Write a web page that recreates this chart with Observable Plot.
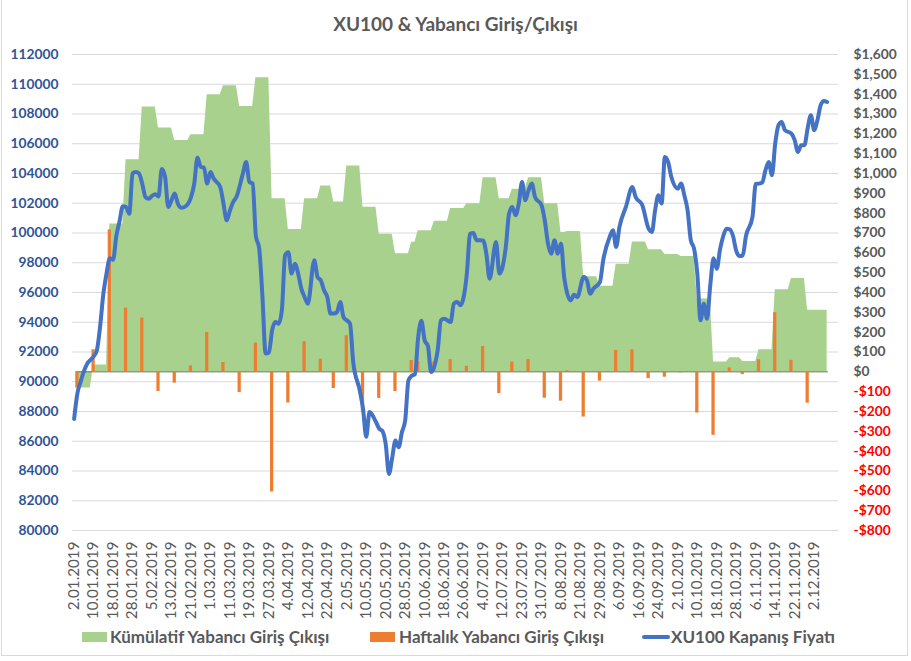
<!DOCTYPE html>
<html>
<head>
<meta charset="utf-8">
<script src="https://cdn.jsdelivr.net/npm/d3@7"></script>
<script src="https://cdn.jsdelivr.net/npm/@observablehq/plot@0.6"></script>
<style>
  html, body { margin: 0; padding: 0; background: #fff; }
  #wrap { position: relative; width: 911px; height: 661px; overflow: hidden; font-family: Lato, "Open Sans", sans-serif; }
  #frame { position: absolute; left: 1px; top: -2px; width: 907px; height: 658px; border: 1px solid #D9D9D9; box-sizing: border-box; }
  #title { position: absolute; left: 0; top: 12px; width: 911px; text-align: center; font-weight: bold; font-size: 19px; line-height: 24px; color: #595959; }
  #chart { position: absolute; left: 0; top: 40px; }
  .lg { position: absolute; top: 626px; height: 22px; line-height: 22px; font-size: 17px; font-weight: bold; color: #595959; white-space: nowrap; }
  .sw { position: absolute; }
</style>
</head>
<body>
<div id="wrap">
  <div id="frame"></div>
  <div id="title">XU100 &amp; Yabancı Giriş/Çıkışı</div>
  <div id="chart"></div>
  <div class="sw" style="left:82px;top:632px;width:25px;height:10px;background:#A9D18E"></div>
  <div class="lg" style="left:110px">Kümülatif Yabancı Giriş Çıkışı</div>
  <div class="sw" style="left:370px;top:632px;width:25px;height:10px;background:#ED7D31"></div>
  <div class="lg" style="left:399px">Haftalık Yabancı Giriş Çıkışı</div>
  <div class="sw" style="left:642px;top:635px;width:28px;height:4px;background:#4472C4;border-radius:2px"></div>
  <div class="lg" style="left:671px">XU100 Kapanış Fiyatı</div>
</div>
<script>
// ---- X axis: trading-day index, labelled every 6th trading day ----
const xTickDay = [0,6,12,18,24,30,36,42,48,54,60,66,72,78,84,90,96,102,108,114,120,126,132,138,144,150,156,162,168,174,180,186,192,198,204,210,216,222,228];
const xTickLabels = ["2.01.2019","10.01.2019","18.01.2019","28.01.2019","5.02.2019","13.02.2019","21.02.2019","1.03.2019","11.03.2019","19.03.2019","27.03.2019","4.04.2019","12.04.2019","22.04.2019","2.05.2019","10.05.2019","20.05.2019","28.05.2019","10.06.2019","18.06.2019","26.06.2019","4.07.2019","12.07.2019","23.07.2019","31.07.2019","8.08.2019","21.08.2019","29.08.2019","6.09.2019","16.09.2019","24.09.2019","2.10.2019","10.10.2019","18.10.2019","28.10.2019","6.11.2019","14.11.2019","22.11.2019","2.12.2019"];

// ---- Left axis (XU100) and right axis (USD mn) ticks ----
const leftTicks = [80000,82000,84000,86000,88000,90000,92000,94000,96000,98000,100000,102000,104000,106000,108000,110000,112000];
const rightTicks = [-800,-700,-600,-500,-400,-300,-200,-100,0,100,200,300,400,500,600,700,800,900,1000,1100,1200,1300,1400,1500,1600];

// ---- Weekly foreign flow (USD mn), at trading-day index of the weekly report ----
const weekDay  = [1,6,11,16,21,26,31,36,41,46,51,56,61,66,71,76,80,84,89,94,99,104,106,111,116,121,126,131,135,140,145,150,152,157,162,167,172,177,182,187,192,197,202,206,211,216,221,226];
const weekFlow = [-82,111,716,321,271,-99,-57,30,198,47,-104,145,-606,-157,152,64,-84,182,-203,-134,-99,57,50,50,62,28,128,-110,49,62,-133,-148,5,-228,-47,108,111,-34,-27,-5,-208,-320,20,-14,61,298,58,-158];
// ---- Cumulative foreign flow level (USD mn) after each weekly report ----
const cumLevel = [-82,35,745,1069,1335,1229,1166,1195,1397,1442,1338,1483,873,718,873,937,856,1038,830,694,596,653,711,759,823,848,979,873,920,979,848,702,707,479,432,543,655,616,592,582,367,49,71,52,111,414,470,310];
const lastDay = 232;

// ---- XU100 close ----
const xuDay = [0,1,2,3,4,6,7,8,9,10,11,12,13,14,15,16,17,18,19,20,21,22,23,24,25,26,27,28,29,30,31,32,33,34,36,37,38,39,40,41,42,43,45,46,47,48,49,50,52,53,54,55,56,57,58,59,60,61,62,63,64,65,66,67,68,69,70,71,72,74,75,76,77,78,79,80,81,82,83,85,86,88,89,90,91,93,94,95,96,97,98,99,100,101,102,103,104,105,106,107,108,109,110,112,113,114,116,117,118,119,121,122,123,124,126,127,128,130,131,133,134,135,136,137,138,139,140,141,142,144,145,146,147,148,149,150,151,153,154,155,157,158,159,160,162,163,165,166,167,168,170,172,173,175,177,178,179,180,181,182,183,184,186,187,188,189,190,191,192,193,194,195,196,197,198,199,200,201,202,203,204,205,206,207,209,210,211,212,213,214,215,216,217,218,219,221,222,223,224,225,226,227,228,229,230,231,232];
const xuClose = [87500,89200,90000,90700,91200,91700,92100,93700,95900,97300,98300,98200,99800,100800,101800,101750,101300,104000,104100,104000,103300,102400,102300,102500,102600,102450,104300,103800,101750,102200,102650,101950,101700,101750,102400,103300,105070,104440,104400,103320,104100,103660,103100,102000,100850,101500,102085,102420,104000,104775,103430,103320,99800,99000,95800,91900,91950,93450,94010,93900,94800,98500,98700,97270,97940,97300,96260,95700,95250,98160,97040,96820,96150,95700,94580,94580,94690,95360,94350,93900,91300,89420,88200,86300,87960,87290,86840,86680,85800,83800,84900,86050,85600,86620,87400,90090,90400,90500,93000,94100,92780,92400,90650,92110,94130,94240,94010,95250,95360,95150,97270,99960,100000,99510,99500,98610,96930,99400,97270,99060,101300,101750,101200,101980,103430,102200,102870,103320,102420,101860,100850,99290,98610,99510,98610,99290,97000,95470,95850,95700,97040,96820,95920,96260,96700,98160,99730,100180,99060,100400,101750,103090,102420,101900,100290,100070,101530,102540,101980,105110,104780,103770,102990,103320,102540,101530,99510,98950,97270,94130,95250,94240,96500,98300,97600,98900,99800,100290,100250,99800,98800,98450,98500,99800,101080,103300,103320,103400,104220,104780,103880,106010,107240,107470,106910,106680,106240,105450,105900,105900,107050,107920,106910,107580,108590,108880,108810];

// ---- secondary axis mapping: USD on the right is linear with XU100 on the left ----
const toY = v => 80000 + (v + 800) * (32000 / 2400);
const fromY = y => Math.round((y - 80000) * 2400 / 32000 - 800);
const fmtUSD = v => (v < 0 ? "-$" : "$") + d3.format(",")(Math.abs(v));

const labelOf = new Map(xTickDay.map((d, i) => [d, xTickLabels[i]]));
const xu = xuDay.map((d, i) => ({i: d, v: xuClose[i]}));
const bars = weekDay.map((d, i) => ({i: d, v: weekFlow[i]}));
const areaPts = [];
weekDay.forEach((s, k) => {
  const e = k + 1 < weekDay.length ? weekDay[k + 1] - 1 : lastDay;
  areaPts.push({i: s, v: cumLevel[k]});
  if (e > s) areaPts.push({i: e, v: cumLevel[k]});
});

const axisFont = {fontSize: 13.8, fontWeight: "bold", fontFamily: "Lato, sans-serif"};

const chart = Plot.plot({
  width: 911,
  height: 580,
  marginLeft: 72,
  marginRight: 73,
  marginTop: 14,
  marginBottom: 90,
  x: {domain: [-0.5, 235.5], label: null},
  y: {domain: [80000, 112000], label: null},
  style: {fontFamily: "Lato, sans-serif", background: "transparent", overflow: "visible"},
  marks: [
    Plot.gridY(leftTicks, {stroke: "#D9D9D9", strokeOpacity: 1, strokeWidth: 1}),
    Plot.areaY(areaPts, {x: "i", y1: () => toY(0), y2: d => toY(d.v), fill: "#A9D18E", curve: "linear"}),
    Plot.ruleY([toY(0)], {x1: 0.6, x2: lastDay + 0.4, stroke: "#6b6b5a", strokeWidth: 1}),
    Plot.rect(bars, {x1: d => d.i - 0.5, x2: d => d.i + 0.5, y1: () => toY(0), y2: d => toY(d.v), fill: "#ED7D31"}),
    Plot.line(xu, {x: "i", y: "v", stroke: "#4472C4", strokeWidth: 4, curve: "monotone-x", strokeLinejoin: "round", strokeLinecap: "round"}),
    Plot.axisY(leftTicks, {anchor: "left", tickSize: 0, tickPadding: 14, tickFormat: d => String(d), fill: "#2F5597", ...axisFont}),
    Plot.axisY(rightTicks.filter(v => v >= 0).map(toY), {anchor: "right", tickSize: 0, tickPadding: 15, tickFormat: y => fmtUSD(fromY(y)), fill: "#595959", ...axisFont}),
    Plot.axisY(rightTicks.filter(v => v < 0).map(toY), {anchor: "right", tickSize: 0, tickPadding: 15, tickFormat: y => fmtUSD(fromY(y)), fill: "#FF0000", ...axisFont}),
    Plot.axisX(xTickDay, {anchor: "bottom", tickSize: 0, tickPadding: 11, tickRotate: -90, tickFormat: d => labelOf.get(d), fill: "#595959", fontSize: 15.2, fontWeight: "normal", fontFamily: "Lato, sans-serif"})
  ]
});
document.getElementById("chart").appendChild(chart);
</script>
</body>
</html>
